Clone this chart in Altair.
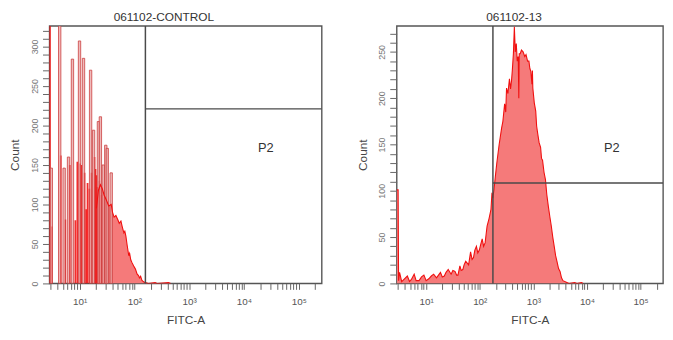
import altair as alt
import pandas as pd

# ---------------- data: left panel "061102-CONTROL" ----------------
ctrl_spike_fitc = [3.05, 4.34, 5.23, 6.29, 7.42, 9.98, 11.8, 15.9, 18.0, 22.1, 24.0, 27.1, 30.1, 32.0, 37.8]
ctrl_spike_count = [146, 400, 146, 160, 284, 307, 285, 270, 194, 205, 211, 150, 175, 171, 140]
ctrl_col_fitc = [2.88, 3.1, 4.53, 5.5, 6.6, 8.39, 9.12, 10.2, 10.7, 12.3, 13.2, 14.0, 15.2, 16.5,
                 18.7, 19.5, 20.3, 21.2, 23.0, 25.0]
ctrl_col_count = [400, 72, 162, 81, 150, 80, 154, 152, 150, 140, 94, 127, 120, 140,
                  160, 145, 137, 122, 130, 112]
ctrl_tail_fitc = [20.3, 22.1, 24.0, 26.0, 28.0, 30.7, 34.0, 37.8, 40.0, 42.7, 46.0, 50.4, 53.0, 56.9,
                  60.0, 64.4, 67.0, 70.0, 74.0, 79.1, 82.0, 85.9, 91.0, 97.3, 101, 105, 112, 119,
                  124, 130, 137, 147, 160, 180, 240, 260, 420, 460]
ctrl_tail_count = [95, 118, 125, 120, 112, 106, 98, 100, 90, 84, 86, 80, 76, 79,
                   72, 64, 66, 60, 48, 35, 38, 30, 26, 22, 20, 18, 12, 10,
                   7, 9, 4, 2, 1, 0, 1, 0, 1, 0]

# ---------------- data: right panel "061102-13" ----------------
s13_fitc = [2.82, 3.0, 3.06, 3.19, 3.5, 3.94, 4.46, 4.9, 5.27, 5.98, 6.5, 7.37, 8.2, 9.08, 10.0, 11.2,
            12.5, 13.8, 15.6, 17.0, 18.5, 20.0, 21.8, 23.5, 25.8, 29.2, 31.5, 34.5, 37.0, 39.2,
            42.6, 45.0, 48.3, 51.0, 54.7, 62.0, 67.4, 72.0, 76.4, 81.0, 86.6, 92.0, 98.2, 104,
            111, 118, 126, 137, 149, 162, 169, 175, 184, 195, 208, 230, 256, 270, 291, 305,
            316, 335, 358, 375, 390, 405, 424, 442, 460, 480, 500, 522, 535, 545, 568, 600,
            643, 690, 729, 780, 826, 860, 898, 940, 960, 977, 1040, 1107, 1150, 1203, 1280,
            1364, 1420, 1483, 1580, 1681, 1780, 1905, 2030, 2160, 2300, 2448, 2600, 2775,
            2950, 3145, 3350, 3565, 4215, 4600, 5890, 6500, 7890, 8500]
s13_count = [101, 101, 3, 12, 2, 5, 8, 2, 4, 10, 3, 3, 7, 9, 3, 5,
             8, 10, 6, 9, 12, 7, 8, 12, 15, 10, 14, 13, 9, 9,
             19, 14, 15, 20, 24, 20, 34, 26, 28, 36, 40, 33, 36, 42,
             48, 40, 44, 62, 70, 80, 98, 92, 101, 115, 130, 150, 168, 175, 194, 185,
             211, 205, 221, 210, 218, 230, 248, 277, 250, 259, 240, 245, 200, 248, 248, 252,
             250, 245, 247, 240, 240, 232, 229, 215, 230, 211, 195, 186, 170, 162, 152,
             147, 135, 133, 120, 112, 96, 83, 72, 62, 50, 40, 30, 23,
             16, 13, 6, 3, 1, 0, 1, 0, 1, 0]

# gates, labels, scales
panel_titles = ["061102-CONTROL", "061102-13"]
gate_x = [159, 176]
gate_y = [221, 108.5]
p2_x = [25100, 29000]
p2_y = [171, 146]
y_max = [326, 278]
y_label_step = 50
x_domain = [2.82, 262144]
x_major = [10, 100, 1000, 10000, 100000]
x_major_text = ["10\u00b9", "10\u00b2", "10\u00b3", "10\u2074", "10\u2075"]
x_minor_mult = [2, 3, 4, 5, 6, 7, 8, 9]

FONT = "Liberation Sans"
FILL = "#f57a7a"
RED = "#f01010"
GATE = "#4a4a4a"

x_ticks = [3, 4, 5, 6, 7, 8, 9] + [d * m for d in x_major[:-1] for m in [1] + x_minor_mult] + [100000, 200000]
label_expr = " : ".join(
    [f"datum.value == {v} ? '{t}'" for v, t in zip(x_major, x_major_text)]) + " : ''"

X_SCALE = alt.Scale(type="log", domain=x_domain, nice=False)
X_AXIS = alt.Axis(values=x_ticks, labelExpr=label_expr, title="FITC-A", labelOverlap=False,
                  grid=False, domain=False, tickSize=6, tickColor="#666", labelColor="#555",
                  labelFontSize=10, labelPadding=7, titleFontSize=12, titleColor="#444",
                  titleFontWeight="normal", titlePadding=9, labelFont=FONT, titleFont=FONT)


def x_enc(field):
    return alt.X(f"{field}:Q", scale=X_SCALE, axis=X_AXIS)


def y_enc(ymax, field):
    return alt.Y(
        f"{field}:Q",
        scale=alt.Scale(domain=[0, ymax], nice=False, zero=True),
        axis=alt.Axis(values=list(range(0, ymax, 10)),
                      labelExpr=f"datum.value % {y_label_step} === 0 ? datum.label : ''",
                      labelAngle=270, labelOverlap=False, grid=False, domain=False, tickSize=7,
                      tickColor="#666", labelColor="#777", labelFontSize=9, labelPadding=3,
                      title="Count", titleFontSize=12, titleColor="#444", titleFontWeight="normal",
                      titlePadding=9, labelFont=FONT, titleFont=FONT),
    )


def bars(fitc, count, half_px):
    f = 10 ** (half_px * 4.97 / 277)
    df = pd.DataFrame({"fitc": fitc, "count": count})
    df["lo"] = df["fitc"] / f
    df["hi"] = df["fitc"] * f
    df["base"] = 0
    return df


def panel(i, area_df, spikes_df, cols_df, width, title_dx):
    ymax = y_max[i]
    layers = []
    area_df = area_df.assign(base=0)
    area = alt.Chart(area_df).mark_area(
        interpolate="linear", fill=FILL, fillOpacity=1, clip=True
    ).encode(x=x_enc("fitc"), y=y_enc(ymax, "count"), y2="base:Q")
    line = alt.Chart(area_df).mark_line(
        interpolate="linear", color=RED, strokeWidth=1.1, clip=True
    ).encode(x=x_enc("fitc"), y=y_enc(ymax, "count"))
    layers += [area]
    if cols_df is not None:
        cols = alt.Chart(cols_df).mark_bar(color="#f41515", opacity=0.9, clip=True).encode(
            x=x_enc("lo"), x2="hi:Q", y=y_enc(ymax, "count"), y2="base:Q")
        layers.append(cols)
    if spikes_df is not None:
        sp = alt.Chart(spikes_df).mark_bar(fill="#e8a4a4", fillOpacity=0.75, stroke="#cc4040",
                                            strokeWidth=0.8, clip=True).encode(
            x=x_enc("lo"), x2="hi:Q", y=y_enc(ymax, "count"), y2="base:Q")
        layers.append(sp)
    layers.append(line)
    gv = alt.Chart(pd.DataFrame({"g": [gate_x[i]]})).mark_rule(color=GATE, strokeWidth=1.5).encode(
        x=x_enc("g"))
    gh = alt.Chart(pd.DataFrame({"g": [gate_x[i]], "g2": [x_domain[1]], "c": [gate_y[i]]})).mark_rule(
        color=GATE, strokeWidth=1.5).encode(x=x_enc("g"), x2="g2:Q", y=y_enc(ymax, "c"))
    txt = alt.Chart(pd.DataFrame({"x": [p2_x[i]], "y": [p2_y[i]], "t": ["P2"]})).mark_text(
        font=FONT, fontSize=13, color="#333").encode(
        x=x_enc("x"), y=y_enc(ymax, "y"), text="t:N")
    layers += [gv, gh, txt]
    return alt.layer(*layers).properties(
        width=width, height=261,
        title=alt.TitleParams(panel_titles[i], font=FONT, fontSize=12, fontWeight="normal",
                              color="#333", offset=1, anchor="middle", dx=title_dx))


ctrl_area = pd.DataFrame({"fitc": ctrl_tail_fitc, "count": ctrl_tail_count})
ctrl_spikes = bars(ctrl_spike_fitc, ctrl_spike_count, 1.2)
ctrl_cols = bars(ctrl_col_fitc, ctrl_col_count, 0.9)
s13_area = pd.DataFrame({"fitc": s13_fitc, "count": s13_count})

left = panel(0, ctrl_area, ctrl_spikes, ctrl_cols, 276, -22)
right = panel(1, s13_area, None, None, 270, -16)

chart = alt.hconcat(left, right, spacing=32).resolve_scale(y="independent").properties(
    padding={"left": 0, "top": 0, "right": 0, "bottom": 0}
).configure_view(stroke="#555", strokeWidth=1.4)

chart.save("out.html", embed_options={"renderer": "svg", "actions": False})
